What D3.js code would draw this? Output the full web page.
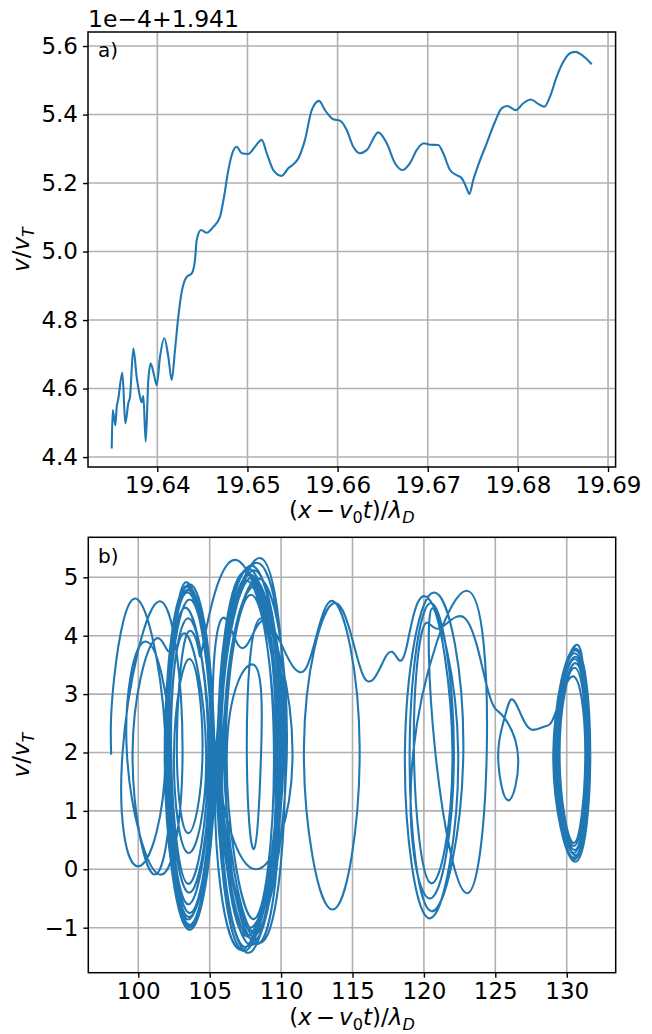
<!DOCTYPE html>
<html>
<head>
<meta charset="utf-8">
<title>phase space</title>
<script src="https://d3js.org/d3.v7.min.js"></script>
<style>
  html, body { margin: 0; padding: 0; background: #ffffff; }
  svg text { font-family: "DejaVu Sans", sans-serif; fill: #000; }
  .grid line { stroke: #b0b0b0; stroke-width: 1.6px; }
  .frame { fill: none; stroke: #000; stroke-width: 1.5px; }
  .trace { fill: none; stroke: #1f77b4; stroke-width: 2.1px; stroke-linejoin: round; }
</style>
</head>
<body>
<script>

// ---------- panel a: v/vT vs (x - v0 t)/lambda_D, v in units of 1e-4 offset by 1.941 ----------
const aX = [19.63494, 19.63505, 19.63534, 19.63550, 19.63567, 19.63612, 19.63645, 19.63678, 19.63697,
  19.63734, 19.63771, 19.63808, 19.63827, 19.63845, 19.63871, 19.63900, 19.63927, 19.63963, 19.63993,
  19.64030, 19.64078, 19.64122, 19.64160, 19.64196, 19.64233, 19.64271, 19.64326, 19.64382, 19.64418,
  19.64437, 19.64485, 19.64548, 19.64621, 19.64696, 19.64740, 19.64788, 19.64832, 19.64881, 19.64936,
  19.65009, 19.65084, 19.65158, 19.65214, 19.65287, 19.65380, 19.65453, 19.65509, 19.65564, 19.65638,
  19.65713, 19.65794, 19.65860, 19.65916, 19.65952, 19.66027, 19.66101, 19.66174, 19.66248, 19.66323,
  19.66452, 19.66545, 19.66637, 19.66722, 19.66803, 19.66877, 19.66958, 19.67025, 19.67117, 19.67172,
  19.67247, 19.67321, 19.67377, 19.67432, 19.67461, 19.67505, 19.67561, 19.67654, 19.67746, 19.67820,
  19.67882, 19.67979, 19.68060, 19.68145, 19.68226, 19.68293, 19.68356, 19.68430, 19.68504, 19.68578,
  19.68641, 19.68708, 19.68819];
const aV = [4.425, 4.537, 4.493, 4.547, 4.570, 4.647, 4.498, 4.557, 4.576,
  4.717, 4.634, 4.576, 4.560, 4.578, 4.445, 4.625, 4.673, 4.640, 4.610,
  4.693, 4.747, 4.693, 4.625, 4.712, 4.810, 4.883, 4.926, 4.936, 4.975,
  5.034, 5.063, 5.055, 5.072, 5.102, 5.160, 5.238, 5.287, 5.306, 5.287,
  5.285, 5.306, 5.326, 5.287, 5.238, 5.221, 5.243, 5.255, 5.272, 5.326,
  5.413, 5.440, 5.413, 5.394, 5.386, 5.382, 5.355, 5.306, 5.287, 5.296,
  5.348, 5.316, 5.258, 5.238, 5.258, 5.296, 5.316, 5.312, 5.311, 5.287,
  5.238, 5.223, 5.214, 5.185, 5.168, 5.209, 5.253, 5.316, 5.379, 5.418,
  5.425, 5.413, 5.433, 5.444, 5.431, 5.423, 5.452, 5.510, 5.554, 5.579,
  5.583, 5.574, 5.547];
const aXTicks = [19.64, 19.65, 19.66, 19.67, 19.68, 19.69];
const aYTicks = [4.4, 4.6, 4.8, 5.0, 5.2, 5.4, 5.6];

// ---------- panel b: one trajectory, [x, v] points, read off loop by loop ----------
// start and the loose loops near x = 100
const orbitA = [[98.10, 1.96], [98.3, 3.25],
  [100.0, 4.61], [101.9, 2.0], [100.0, 0.05], [98.9, 2.0],
  [101.5, 4.59], [103.1, 2.0], [101.5, -0.09], [99.2, 2.0],
  [100.5, 3.90], [102.3, 2.0], [101.15, -0.09], [99.6, 2.0],
  [101.15, 3.93], [102.3, 3.80]];
// dense loops around x = 103.5
const orbitB = [[103.5, 4.90], [105.35, 2.0], [103.6, -1.04], [101.85, 2.0],
  [103.6, 4.88], [105.3, 2.0], [103.55, -1.00], [101.9, 2.0],
  [103.45, 4.86], [105.3, 2.0], [103.65, -0.98], [101.9, 2.0],
  [103.4, 4.84], [105.25, 2.0], [103.6, -0.95], [101.95, 2.0],
  [103.55, 4.80], [105.2, 2.0], [103.5, -0.86], [102.0, 2.0],
  [103.5, 4.78], [105.25, 2.0], [103.55, -0.82], [101.95, 2.0],
  [103.45, 4.74], [105.15, 2.0], [103.6, -0.75], [102.05, 2.0],
  [103.6, 4.62], [105.1, 2.0], [103.5, -0.60], [102.1, 2.0],
  [103.3, 4.48], [105.0, 2.0], [103.55, -0.40], [102.2, 2.0],
  [103.5, 4.30], [104.9, 2.0], [103.5, -0.25], [102.3, 2.0],
  [103.25, 4.04], [104.75, 2.0], [103.5, 0.28], [102.5, 2.0],
  [103.6, 3.60], [104.5, 2.0], [103.5, 0.62], [102.7, 2.0],
  [103.3, 3.95], [104.2, 3.79], [104.65, 3.99]];
// dense loops around x = 108
const orbitC = [[107.1, 5.27], [109.9, 2.0], [107.24, -1.38], [105.45, 2.0],
  [108.5, 5.33], [110.3, 2.0], [108.5, -1.26], [105.6, 2.0],
  [107.9, 5.20], [110.0, 2.0], [107.7, -1.43], [105.5, 2.0],
  [108.3, 5.25], [110.2, 2.0], [107.4, -1.40], [105.55, 2.0],
  [107.7, 5.15], [109.8, 2.0], [107.5, -1.33], [105.7, 2.0],
  [108.1, 5.12], [110.1, 2.0], [107.9, -1.30], [105.6, 2.0],
  [107.5, 5.10], [109.9, 2.0], [108.3, -1.28], [105.65, 2.0],
  [107.8, 5.05], [109.7, 2.0], [108.1, -1.22], [105.8, 2.0],
  [108.0, 5.00], [109.9, 2.0], [107.6, -1.15], [105.9, 2.0],
  [108.4, 4.98], [110.4, 2.0], [107.9, -1.18], [105.75, 2.0],
  [107.6, 4.94], [109.6, 2.0], [108.2, -1.10], [106.0, 2.0],
  [108.2, 4.85], [110.2, 2.0], [107.8, -1.00], [106.1, 2.0],
  [107.9, 4.70], [109.5, 2.0], [108.0, -0.85], [106.2, 2.0],
  [108.1, 3.50], [108.6, 2.0], [108.1, 0.35], [107.6, 2.0],
  [108.6, 4.30], [110.8, 2.0], [108.2, 0.00], [105.4, 2.0],
  [105.73, 4.24], [107.0, 3.84], [108.05, 4.04], [108.9, 4.27], [110.04, 3.84], [111.8, 3.47]];
// single loop at x = 113.7 and the wavy passage
const orbitD = [[113.66, 4.59], [115.5, 2.1], [113.6, -0.69], [111.6, 2.1], [113.72, 4.56],
  [115.76, 3.31], [117.3, 3.63], [118.1, 3.63], [118.8, 3.82]];
// loops around x = 120.5 and x = 123
const orbitE = [[120.3, 4.64], [122.4, 2.0], [120.43, -0.84], [118.67, 2.0],
  [120.73, 4.74], [122.76, 2.0], [120.55, -0.72], [119.0, 2.0],
  [120.5, 4.56], [122.1, 2.0], [120.43, -0.50], [119.25, 2.0],
  [123.0, 4.77], [124.4, 2.0], [123.0, -0.41], [120.8, 2.0],
  [120.6, 4.47], [122.0, 2.0], [120.5, -0.24], [119.3, 2.0],
  [119.9, 4.10], [121.0, 4.12], [122.88, 4.30], [124.3, 3.24], [125.0, 2.75]];
// small loop at x = 126 and the passage to the last cluster
const orbitG = [[125.7, 2.57], [126.6, 1.9], [125.9, 1.18], [125.2, 1.9], [125.6, 2.55],
  [126.15, 2.91], [126.85, 2.62], [127.55, 2.39], [128.5, 2.45], [129.2, 2.67]];
// loops around x = 130.5, then the end point
const orbitH = [[130.5, 3.30], [131.3, 2.0], [130.5, 0.45], [129.5, 2.0],
  [130.55, 3.45], [131.4, 2.0], [130.5, 0.40], [129.4, 2.0],
  [130.6, 3.53], [131.45, 2.0], [130.55, 0.33], [129.3, 2.0],
  [130.55, 3.60], [131.5, 2.0], [130.5, 0.28], [129.25, 2.0],
  [130.6, 3.64], [131.55, 2.0], [130.6, 0.24], [129.2, 2.0],
  [130.55, 3.70], [131.6, 2.0], [130.5, 0.20], [129.15, 2.0],
  [130.6, 3.75], [131.6, 2.0], [130.55, 0.17], [129.1, 2.0],
  [130.6, 3.78], [131.65, 2.0], [130.6, 0.13], [129.06, 2.0],
  [130.65, 3.84], [131.3, 2.45]];
const bXTicks = [100, 105, 110, 115, 120, 125, 130];
const bYTicks = [-1, 0, 1, 2, 3, 4, 5];

// ---------- layout ----------
const W = 652, H = 1034;
const FS = 23;
const svg = d3.select("body").append("svg").attr("width", W).attr("height", H);

const boxA = {left: 88, right: 615.6, top: 32, bottom: 467};
const boxB = {left: 88.3, right: 615.7, top: 537.3, bottom: 972.7};

const xA = d3.scaleLinear().domain([19.63231, 19.69084]).range([boxA.left, boxA.right]);
const yA = d3.scaleLinear().domain([4.371, 5.641]).range([boxA.bottom, boxA.top]);
const xB = d3.scaleLinear().domain([96.50, 133.43]).range([boxB.left, boxB.right]);
const yB = d3.scaleLinear().domain([-1.771, 5.685]).range([boxB.bottom, boxB.top]);

function frame(box, x, y, xTicks, yTicks, xFmt, yFmt, id) {
  const g = svg.append("g");
  const grid = g.append("g").attr("class", "grid");
  grid.selectAll("line.gx").data(xTicks).join("line").attr("class", "gx")
    .attr("x1", d => x(d)).attr("x2", d => x(d)).attr("y1", box.top).attr("y2", box.bottom);
  grid.selectAll("line.gy").data(yTicks).join("line").attr("class", "gy")
    .attr("y1", d => y(d)).attr("y2", d => y(d)).attr("x1", box.left).attr("x2", box.right);

  g.append("clipPath").attr("id", id).append("rect")
    .attr("x", box.left).attr("y", box.top)
    .attr("width", box.right - box.left).attr("height", box.bottom - box.top);

  const ax = g.append("g").attr("transform", `translate(0,${box.bottom})`)
    .call(d3.axisBottom(x).tickValues(xTicks).tickFormat(xFmt).tickSize(5).tickPadding(5).tickSizeOuter(0));
  const ay = g.append("g").attr("transform", `translate(${box.left},0)`)
    .call(d3.axisLeft(y).tickValues(yTicks).tickFormat(yFmt).tickSize(5).tickPadding(5).tickSizeOuter(0));
  [ax, ay].forEach(a => {
    a.select(".domain").remove();
    a.attr("font-family", null).attr("font-size", FS);
    a.selectAll("line").attr("stroke", "#000").attr("stroke-width", 1.4);
  });
  return g;
}

function addBox(box) {
  svg.append("rect").attr("class", "frame")
    .attr("x", box.left).attr("y", box.top)
    .attr("width", box.right - box.left).attr("height", box.bottom - box.top);
}

function yLabel(box) {
  const t = svg.append("text")
    .attr("transform", `translate(29,${(box.top + box.bottom) / 2}) rotate(-90)`)
    .attr("text-anchor", "middle").attr("font-size", FS);
  t.append("tspan").attr("font-style", "italic").text("v");
  t.append("tspan").text("/");
  t.append("tspan").attr("font-style", "italic").text("v");
  t.append("tspan").attr("font-style", "italic").attr("font-size", FS * 0.7).attr("dy", 5).text("T");
}

function xLabel(box, baseline) {
  const t = svg.append("text")
    .attr("x", (box.left + box.right) / 2).attr("y", baseline)
    .attr("text-anchor", "middle").attr("font-size", FS);
  t.append("tspan").text("(");
  t.append("tspan").attr("font-style", "italic").text("x");
  t.append("tspan").attr("dx", 4).text("\u2212");
  t.append("tspan").attr("dx", 4).attr("font-style", "italic").text("v");
  t.append("tspan").attr("font-size", FS * 0.7).attr("dy", 5).text("0");
  t.append("tspan").attr("font-style", "italic").attr("dy", -5).text("t");
  t.append("tspan").text(")/");
  t.append("tspan").attr("font-style", "italic").text("\u03bb");
  t.append("tspan").attr("font-style", "italic").attr("font-size", FS * 0.7).attr("dy", 5).text("D");
}

// ---------- panel a ----------
const gA = frame(boxA, xA, yA, aXTicks, aYTicks, d3.format(".2f"), d3.format(".1f"), "clipA");
const lineA = d3.line().x(d => xA(d[0])).y(d => yA(d[1])).curve(d3.curveMonotoneX);
gA.append("path").attr("class", "trace").attr("clip-path", "url(#clipA)")
  .attr("d", lineA(d3.zip(aX, aV)));
addBox(boxA);
svg.append("text").attr("x", 88).attr("y", 27).attr("font-size", 23.5).text("1e\u22124+1.941");
svg.append("text").attr("x", 98).attr("y", 57).attr("font-size", 20).text("a)");
yLabel(boxA);
xLabel(boxA, 518);

// ---------- panel b ----------
const gB = frame(boxB, xB, yB, bXTicks, bYTicks, d3.format("d"), d3.format("d"), "clipB");
const orbit = [].concat(orbitA, orbitB, orbitC, orbitD, orbitE, orbitG, orbitH);
const lineB = d3.line().x(d => xB(d[0])).y(d => yB(d[1])).curve(d3.curveNatural);
gB.append("path").attr("class", "trace").attr("clip-path", "url(#clipB)")
  .attr("d", lineB(orbit));
addBox(boxB);
svg.append("text").attr("x", 98).attr("y", 563).attr("font-size", 20).text("b)");
yLabel(boxB);
xLabel(boxB, 1025);

</script>
</body>
</html>
